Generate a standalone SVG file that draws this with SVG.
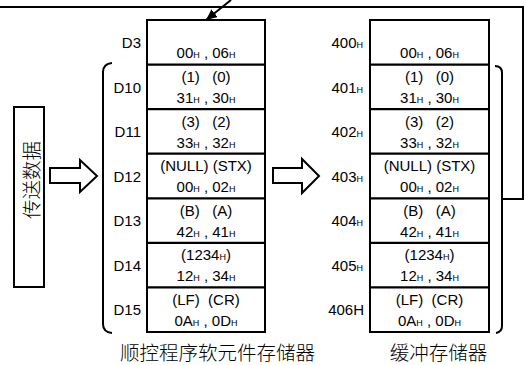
<svg xmlns="http://www.w3.org/2000/svg" width="526" height="365" viewBox="0 0 526 365">
<style>
.bx{fill:#fff;stroke:#000;stroke-width:2}
.sep{stroke:#000;stroke-width:2.2;fill:none}
.ln{stroke:#000;stroke-width:2;fill:none}
.ha{fill:#fff;stroke:#000;stroke-width:2;stroke-linejoin:miter}
.t{font-family:"Liberation Sans",Arial,sans-serif;font-size:15px;fill:#000;white-space:pre}
.c{text-anchor:middle}
.r{text-anchor:end}
.s{font-size:9px}
.cjk{font-family:"Noto Sans CJK SC","Noto Sans CJK JP",sans-serif;font-size:19.5px;font-weight:300;fill:#000;text-anchor:middle}
</style>
<defs>
<marker id="ah" markerUnits="userSpaceOnUse" markerWidth="12" markerHeight="10" refX="11" refY="5" orient="auto">
<path d="M0,0 L11,5 L0,10 z" fill="#000"/>
</marker>
</defs>

<g id="connectors">
<polyline class="ln" points="0,7 523,7 523,199 502,199"/>
<line class="ln" x1="231" y1="0" x2="206" y2="20" marker-end="url(#ah)"/>
<path class="ln" d="M112,63 Q103,64 103,72 L103,324 Q103,332 112,333"/>
<path class="ln" d="M495,66 Q502,66 502,73 L502,326 Q502,332 496,333"/>
<polygon class="ha" points="50,168 80,168 80,160 97,176 80,192 80,183 50,183"/>
<polygon class="ha" points="273,168 302,168 302,159 319,176 302,193 302,183 273,183"/>
</g>

<g id="send-data">
<rect class="bx" x="14" y="107" width="30" height="180"/>
<text class="cjk" transform="translate(30,180) rotate(-90)" dominant-baseline="central">传送数据</text>
</g>

<g id="device-memory">
<rect class="bx" x="147" y="20" width="118" height="312"/>
<path class="sep" d="M147,64.6H265M147,109.1H265M147,153.7H265M147,198.3H265M147,242.9H265M147,287.4H265"/>
<text class="t r" x="141" y="48">D3</text>
<text class="t r" x="141" y="92.5">D10</text>
<text class="t r" x="141" y="137">D11</text>
<text class="t r" x="141" y="181.5">D12</text>
<text class="t r" x="141" y="226">D13</text>
<text class="t r" x="141" y="270.5">D14</text>
<text class="t r" x="141" y="315">D15</text>
<text class="t c" x="206" y="58">00<tspan class="s">H</tspan> , 06<tspan class="s">H</tspan></text>
<text class="t c" x="206" y="82">(1)   (0)</text>
<text class="t c" x="206" y="103">31<tspan class="s">H</tspan> , 30<tspan class="s">H</tspan></text>
<text class="t c" x="206" y="126.5">(3)   (2)</text>
<text class="t c" x="206" y="147.5">33<tspan class="s">H</tspan> , 32<tspan class="s">H</tspan></text>
<text class="t c" x="206" y="171">(NULL) (STX)</text>
<text class="t c" x="206" y="192">00<tspan class="s">H</tspan> , 02<tspan class="s">H</tspan></text>
<text class="t c" x="206" y="215.5">(B)   (A)</text>
<text class="t c" x="206" y="236.5">42<tspan class="s">H</tspan> , 41<tspan class="s">H</tspan></text>
<text class="t c" x="206" y="260">(1234<tspan class="s">H</tspan>)</text>
<text class="t c" x="206" y="281">12<tspan class="s">H</tspan> , 34<tspan class="s">H</tspan></text>
<text class="t c" x="206" y="304.5">(LF)  (CR)</text>
<text class="t c" x="206" y="325.5">0A<tspan class="s">H</tspan> , 0D<tspan class="s">H</tspan></text>
<text class="cjk" x="217.5" y="360">顺控程序软元件存储器</text>
</g>

<g id="buffer-memory">
<rect class="bx" x="370" y="20" width="119" height="312"/>
<path class="sep" d="M370,64.6H489M370,109.1H489M370,153.7H489M370,198.3H489M370,242.9H489M370,287.4H489"/>
<text class="t r" x="363" y="48">400<tspan class="s">H</tspan></text>
<text class="t r" x="363" y="92.5">401<tspan class="s">H</tspan></text>
<text class="t r" x="363" y="137">402<tspan class="s">H</tspan></text>
<text class="t r" x="363" y="181.5">403<tspan class="s">H</tspan></text>
<text class="t r" x="363" y="226">404<tspan class="s">H</tspan></text>
<text class="t r" x="363" y="270.5">405<tspan class="s">H</tspan></text>
<text class="t r" x="364" y="315">406H</text>
<text class="t c" x="429.5" y="58">00<tspan class="s">H</tspan> , 06<tspan class="s">H</tspan></text>
<text class="t c" x="429.5" y="82">(1)   (0)</text>
<text class="t c" x="429.5" y="103">31<tspan class="s">H</tspan> , 30<tspan class="s">H</tspan></text>
<text class="t c" x="429.5" y="126.5">(3)   (2)</text>
<text class="t c" x="429.5" y="147.5">33<tspan class="s">H</tspan> , 32<tspan class="s">H</tspan></text>
<text class="t c" x="429.5" y="171">(NULL) (STX)</text>
<text class="t c" x="429.5" y="192">00<tspan class="s">H</tspan> , 02<tspan class="s">H</tspan></text>
<text class="t c" x="429.5" y="215.5">(B)   (A)</text>
<text class="t c" x="429.5" y="236.5">42<tspan class="s">H</tspan> , 41<tspan class="s">H</tspan></text>
<text class="t c" x="429.5" y="260">(1234<tspan class="s">H</tspan>)</text>
<text class="t c" x="429.5" y="281">12<tspan class="s">H</tspan> , 34<tspan class="s">H</tspan></text>
<text class="t c" x="429.5" y="304.5">(LF)  (CR)</text>
<text class="t c" x="429.5" y="325.5">0A<tspan class="s">H</tspan> , 0D<tspan class="s">H</tspan></text>
<text class="cjk" x="438.5" y="360">缓冲存储器</text>
</g>
</svg>
